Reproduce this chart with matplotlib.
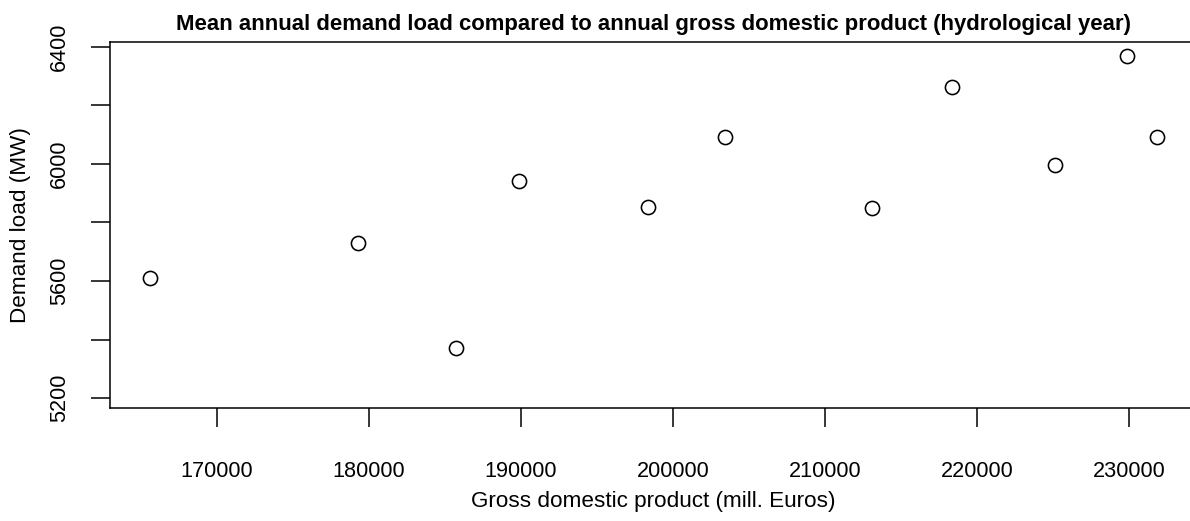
import matplotlib
matplotlib.use("Agg")
import matplotlib.pyplot as plt

plt.rcParams["font.family"] = ["Liberation Sans", "DejaVu Sans"]

# annual GDP (mill. Euros) and mean demand load (MW), hydrological years
gdp = [165640, 179310, 185770, 189900, 198390, 203400, 213060, 218340, 225110, 229830, 231800]
load = [5610, 5729, 5371, 5942, 5852, 6093, 5849, 6261, 5996, 6368, 6093]

x_ticks = [170000, 180000, 190000, 200000, 210000, 220000, 230000]
y_ticks = [5200, 5400, 5600, 5800, 6000, 6200, 6400]
y_tick_labels = ["5200", "", "5600", "", "6000", "", "6400"]
y_limits = (5165, 6417)

TITLE = "Mean annual demand load compared to annual gross domestic product (hydrological year)"
TICK_SIZE = 15.6
LABEL_SIZE = 16.2
TITLE_SIZE = 15.9


def padded_range(values, frac=0.04):
    # same 4% extension as R's default xaxs="r"
    lo, hi = min(values), max(values)
    span = hi - lo
    return lo - frac * span, hi + frac * span


fig = plt.figure(figsize=(11.9, 5.21), dpi=100)
ax = fig.add_axes([0.0924, 0.2161, 0.9134, 0.7039])

ax.plot(
    gdp,
    load,
    linestyle="none",
    marker="o",
    markersize=10.2,
    markerfacecolor="none",
    markeredgecolor="black",
    markeredgewidth=1.15,
)

ax.set_xlim(*padded_range(gdp))
ax.set_ylim(*y_limits)

ax.set_xticks(x_ticks)
ax.set_xticklabels([str(v) for v in x_ticks], fontsize=TICK_SIZE)
ax.set_yticks(y_ticks)
ax.set_yticklabels(y_tick_labels, fontsize=TICK_SIZE, rotation=90, va="center")

ax.tick_params(axis="both", direction="out", length=14, width=1.1, colors="black")
ax.tick_params(axis="x", pad=24)
ax.tick_params(axis="y", pad=15)

for spine in ax.spines.values():
    spine.set_linewidth(1.1)
    spine.set_color("black")

ax.set_title(TITLE, fontsize=TITLE_SIZE, fontweight="bold", pad=8.4)
ax.set_xlabel("Gross domestic product (mill. Euros)", fontsize=LABEL_SIZE, labelpad=6.5)
ax.set_ylabel("Demand load (MW)", fontsize=LABEL_SIZE, labelpad=12.5)

fig.savefig("out.png", dpi=100)
